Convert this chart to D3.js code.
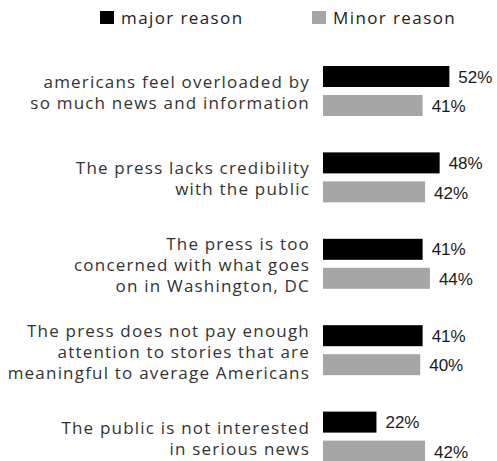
<!DOCTYPE html>
<html>
<head>
<meta charset="utf-8">
<script src="https://cdn.jsdelivr.net/npm/d3@7"></script>
<style>
  html, body { margin: 0; padding: 0; background: #fff; }
  svg { display: block; }
</style>
</head>
<body>
<svg id="chart" width="497" height="461"></svg>
<script>
const categories = [
  "americans feel overloaded by\nso much news and information",
  "The press lacks credibility\nwith the public",
  "The press is too\nconcerned with what goes\non in Washington, DC",
  "The press does not pay enough\nattention to stories that are\nmeaningful to average Americans",
  "The public is not interested\nin serious news"
];
const seriesNames = ["major reason", "Minor reason"];
const majorValues = [52, 48, 41, 41, 22];
const minorValues = [41, 42, 44, 40, 42];
const seriesColors = ["#000000", "#a6a6a6"];

const svg = d3.select("#chart");

const y = d3.scaleBand().domain(d3.range(categories.length)).range([47.8, 479.8]).padding(0);
const ySeries = d3.scaleBand().domain([0, 1]).range([-25, 25]).paddingInner(8 / 29).paddingOuter(0);
const x = d3.scaleLinear().domain([0, 100]).range([323, 566]);

const data = categories.map((c, i) => ({
  cat: c, i,
  values: [majorValues[i], minorValues[i]]
}));

const catFont = "'Open Sans', sans-serif";

// Legend
const legend = svg.append("g");
const legendX = [100, 312];
seriesNames.forEach((name, k) => {
  legend.append("rect")
    .attr("x", legendX[k]).attr("y", 11)
    .attr("width", 14).attr("height", 13)
    .attr("fill", seriesColors[k]);
  legend.append("text")
    .attr("x", legendX[k] + 21).attr("y", 24)
    .attr("font-family", catFont).attr("font-size", 17)
    .attr("letter-spacing", "1.4px")
    .attr("fill", "#222")
    .text(name);
});

const groups = svg.selectAll("g.grp").data(data).join("g")
  .attr("class", "grp")
  .attr("transform", d => `translate(0,${y(d.i) + y.bandwidth() / 2})`);

// category labels
groups.each(function(d) {
  const lines = d.cat.split("\n");
  const n = lines.length;
  const lh = 21;
  const t = d3.select(this).append("text")
    .attr("text-anchor", "end")
    .attr("font-family", catFont)
    .attr("font-size", 17)
    .attr("letter-spacing", "1.2px")
    .attr("fill", "#333");
  lines.forEach((ln, j) => {
    t.append("tspan")
      .attr("x", 310)
      .attr("y", 7.5 - (n - 1) * lh / 2 + j * lh)
      .text(ln);
  });
});

// bars
groups.selectAll("rect.bar").data(d => d.values.map((v, k) => ({v, k}))).join("rect")
  .attr("class", "bar")
  .attr("x", x(0))
  .attr("y", d => ySeries(d.k))
  .attr("width", d => x(d.v) - x(0))
  .attr("height", ySeries.bandwidth())
  .attr("fill", d => seriesColors[d.k]);

// value labels
groups.selectAll("text.val").data(d => d.values.map((v, k) => ({v, k}))).join("text")
  .attr("class", "val")
  .attr("x", d => x(d.v) + 9)
  .attr("y", d => ySeries(d.k) + ySeries.bandwidth() / 2 + (d.k === 1 ? 0.5 : 0))
  .attr("dy", "0.36em")
  .attr("font-family", "'Liberation Sans', Arial, sans-serif")
  .attr("font-size", 17)
  .attr("fill", "#1a1a1a")
  .text(d => d.v + "%");
</script>
</body>
</html>
